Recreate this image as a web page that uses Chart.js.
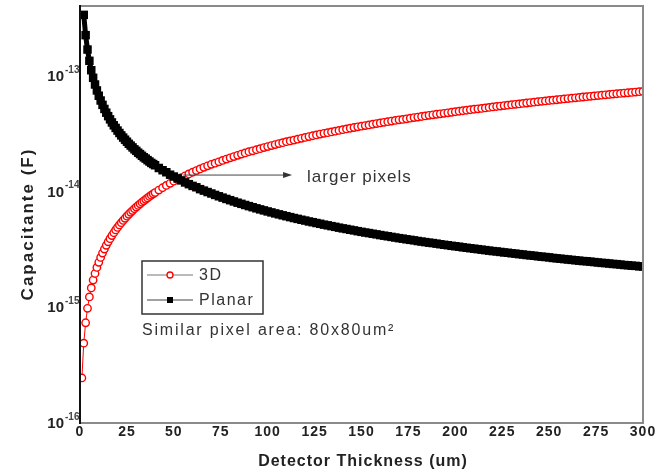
<!DOCTYPE html>
<html>
<head>
<meta charset="utf-8">
<script src="https://cdn.jsdelivr.net/npm/chart.js@4.4.1/dist/chart.umd.min.js"></script>
<style>
  html, body { margin: 0; padding: 0; background: #fff; }
  #chart { display: block; }
</style>
</head>
<body>
<canvas id="chart" width="657" height="473"></canvas>
<script>
// detector thickness (um)
const thickness = [
    1, 2, 3, 4, 5, 6, 7, 8, 9, 10,
    11, 12, 13, 14, 15, 16, 17, 18, 19, 20,
    21, 22, 23, 24, 25, 26, 27, 28, 29, 30,
    31, 32, 33, 34, 35, 36, 37, 38, 39, 40,
    42, 44, 46, 48, 50, 52, 54, 56, 58, 60,
    62, 64, 66, 68, 70, 72, 74, 76, 78, 80,
    82, 84, 86, 88, 90, 92, 94, 96, 98, 100,
    102, 104, 106, 108, 110, 112, 114, 116, 118, 120,
    122, 124, 126, 128, 130, 132, 134, 136, 138, 140,
    142, 144, 146, 148, 150, 152, 154, 156, 158, 160,
    162, 164, 166, 168, 170, 172, 174, 176, 178, 180,
    182, 184, 186, 188, 190, 192, 194, 196, 198, 200,
    202, 204, 206, 208, 210, 212, 214, 216, 218, 220,
    222, 224, 226, 228, 230, 232, 234, 236, 238, 240,
    242, 244, 246, 248, 250, 252, 254, 256, 258, 260,
    262, 264, 266, 268, 270, 272, 274, 276, 278, 280,
    282, 284, 286, 288, 290, 292, 294, 296, 298, 300
];

// capacitance, fF
const cap3D = [
    0.245, 0.49, 0.735, 0.98, 1.23, 1.47, 1.72, 1.96, 2.21, 2.45,
    2.70, 2.94, 3.19, 3.43, 3.68, 3.92, 4.17, 4.41, 4.66, 4.90,
    5.15, 5.39, 5.64, 5.88, 6.13, 6.37, 6.62, 6.86, 7.11, 7.35,
    7.60, 7.84, 8.09, 8.33, 8.58, 8.82, 9.07, 9.31, 9.56, 9.80,
    10.3, 10.8, 11.3, 11.8, 12.3, 12.7, 13.2, 13.7, 14.2, 14.7,
    15.2, 15.7, 16.2, 16.7, 17.2, 17.6, 18.1, 18.6, 19.1, 19.6,
    20.1, 20.6, 21.1, 21.6, 22.1, 22.5, 23.0, 23.5, 24.0, 24.5,
    25.0, 25.5, 26.0, 26.5, 27.0, 27.4, 27.9, 28.4, 28.9, 29.4,
    29.9, 30.4, 30.9, 31.4, 31.9, 32.3, 32.8, 33.3, 33.8, 34.3,
    34.8, 35.3, 35.8, 36.3, 36.8, 37.2, 37.7, 38.2, 38.7, 39.2,
    39.7, 40.2, 40.7, 41.2, 41.7, 42.1, 42.6, 43.1, 43.6, 44.1,
    44.6, 45.1, 45.6, 46.1, 46.6, 47.0, 47.5, 48.0, 48.5, 49.0,
    49.5, 50.0, 50.5, 51.0, 51.5, 51.9, 52.4, 52.9, 53.4, 53.9,
    54.4, 54.9, 55.4, 55.9, 56.4, 56.8, 57.3, 57.8, 58.3, 58.8,
    59.3, 59.8, 60.3, 60.8, 61.3, 61.7, 62.2, 62.7, 63.2, 63.7,
    64.2, 64.7, 65.2, 65.7, 66.2, 66.6, 67.1, 67.6, 68.1, 68.6,
    69.1, 69.6, 70.1, 70.6, 71.1, 71.5, 72.0, 72.5, 73.0, 73.5
];

const capPlanar = [
    null, 337, 225, 169, 135, 112, 96.3, 84.3, 74.9, 67.4,
    61.3, 56.2, 51.8, 48.1, 44.9, 42.1, 39.6, 37.4, 35.5, 33.7,
    32.1, 30.6, 29.3, 28.1, 27.0, 25.9, 25.0, 24.1, 23.2, 22.5,
    21.7, 21.1, 20.4, 19.8, 19.3, 18.7, 18.2, 17.7, 17.3, 16.9,
    16.0, 15.3, 14.7, 14.0, 13.5, 13.0, 12.5, 12.0, 11.6, 11.2,
    10.9, 10.5, 10.2, 9.91, 9.63, 9.36, 9.11, 8.87, 8.64, 8.43,
    8.22, 8.02, 7.84, 7.66, 7.49, 7.33, 7.17, 7.02, 6.88, 6.74,
    6.61, 6.48, 6.36, 6.24, 6.13, 6.02, 5.91, 5.81, 5.71, 5.62,
    5.52, 5.44, 5.35, 5.27, 5.18, 5.11, 5.03, 4.96, 4.88, 4.81,
    4.75, 4.68, 4.62, 4.55, 4.49, 4.43, 4.38, 4.32, 4.27, 4.21,
    4.16, 4.11, 4.06, 4.01, 3.96, 3.92, 3.87, 3.83, 3.79, 3.74,
    3.70, 3.66, 3.62, 3.59, 3.55, 3.51, 3.47, 3.44, 3.40, 3.37,
    3.34, 3.30, 3.27, 3.24, 3.21, 3.18, 3.15, 3.12, 3.09, 3.06,
    3.04, 3.01, 2.98, 2.96, 2.93, 2.91, 2.88, 2.86, 2.83, 2.81,
    2.79, 2.76, 2.74, 2.72, 2.70, 2.67, 2.65, 2.63, 2.61, 2.59,
    2.57, 2.55, 2.53, 2.51, 2.50, 2.48, 2.46, 2.44, 2.42, 2.41,
    2.39, 2.37, 2.36, 2.34, 2.32, 2.31, 2.29, 2.28, 2.26, 2.25
];

const yTickValues = [1e-16, 1e-15, 1e-14, 1e-13];
const yTickExponents = ["-16", "-15", "-14", "-13"];

const fF = 1e-15;
const toPoints = arr => thickness.map((t, i) => ({ x: t, y: arr[i] == null ? null : arr[i] * fF }));

const FONT = "Arial, 'Liberation Sans', sans-serif";

const decorPlugin = {
    id: "decor",
    beforeDraw(chart) {
        chart.ctx.letterSpacing = "1px"; // x tick labels look spaced out
    },
    afterDraw(chart) {
        const ctx = chart.ctx;
        const a = chart.chartArea;
        const xs = chart.scales.x, ys = chart.scales.y;
        ctx.save();

        // frame
        ctx.lineWidth = 2;
        ctx.strokeStyle = "#8a8a8a";
        ctx.beginPath();
        ctx.moveTo(a.left, a.top);
        ctx.lineTo(a.right, a.top);
        ctx.lineTo(a.right, a.bottom);
        ctx.lineTo(a.left, a.bottom);
        ctx.stroke();
        ctx.strokeStyle = "#111";
        ctx.beginPath();
        ctx.moveTo(a.left, a.top - 1);
        ctx.lineTo(a.left, a.bottom + 1);
        ctx.stroke();

        // y tick labels 10^n
        ctx.letterSpacing = "0px";
        yTickValues.forEach((v, i) => {
            const y = ys.getPixelForValue(v);
            ctx.fillStyle = "#222";
            ctx.font = "bold 15px " + FONT;
            ctx.textAlign = "right";
            ctx.textBaseline = "middle";
            ctx.fillText("10", 64, y + 1);
            ctx.font = "bold 10px " + FONT;
            ctx.textAlign = "left";
            ctx.fillStyle = "#444";
            ctx.fillText(yTickExponents[i], 65, y - 6);
        });

        // axis titles
        ctx.fillStyle = "#222";
        ctx.textAlign = "center";
        ctx.textBaseline = "middle";
        ctx.letterSpacing = "1px";
        ctx.font = "bold 16px " + FONT;
        ctx.fillText("Detector Thickness (um)", 363, 462);
        ctx.save();
        ctx.letterSpacing = "2px";
        ctx.font = "bold 17px " + FONT;
        ctx.translate(28, 224);
        ctx.rotate(-Math.PI / 2);
        ctx.fillText("Capacitante (F)", 0, 0);
        ctx.restore();

        // annotation arrow
        const ay = ys.getPixelForValue(13.9 * fF);
        const ax0 = xs.getPixelForValue(55), ax1 = xs.getPixelForValue(113);
        ctx.strokeStyle = "#444";
        ctx.lineWidth = 1;
        ctx.beginPath();
        ctx.moveTo(ax0, ay);
        ctx.lineTo(ax1 - 6, ay);
        ctx.stroke();
        ctx.fillStyle = "#333";
        ctx.beginPath();
        ctx.moveTo(ax1, ay);
        ctx.lineTo(ax1 - 9, ay - 3);
        ctx.lineTo(ax1 - 9, ay + 3);
        ctx.closePath();
        ctx.fill();
        ctx.letterSpacing = "1px";
        ctx.font = "17px " + FONT;
        ctx.textAlign = "left";
        ctx.fillStyle = "#333";
        ctx.fillText("larger pixels", xs.getPixelForValue(121), ay + 2);

        // legend box
        ctx.strokeStyle = "#333";
        ctx.lineWidth = 1.5;
        ctx.strokeRect(142, 261, 121, 53);
        ctx.lineWidth = 1.2;
        ctx.strokeStyle = "#777";
        ctx.beginPath();
        ctx.moveTo(147, 275); ctx.lineTo(193, 275);
        ctx.stroke();
        ctx.fillStyle = "#fff";
        ctx.strokeStyle = "#ff0000";
        ctx.lineWidth = 1.3;
        ctx.beginPath();
        ctx.arc(170, 275, 3, 0, Math.PI * 2);
        ctx.fill();
        ctx.stroke();
        ctx.strokeStyle = "#444";
        ctx.lineWidth = 1.2;
        ctx.beginPath();
        ctx.moveTo(147, 300); ctx.lineTo(193, 300);
        ctx.stroke();
        ctx.fillStyle = "#000";
        ctx.fillRect(167, 297, 6, 6);

        ctx.fillStyle = "#333";
        ctx.font = "16px " + FONT;
        ctx.textAlign = "left";
        ctx.textBaseline = "middle";
        ctx.letterSpacing = "1.5px";
        ctx.fillText("3D", 199, 276);
        ctx.fillText("Planar", 199, 301);
        ctx.letterSpacing = "1.8px";
        ctx.fillText("Similar pixel area: 80x80um\u00B2", 142, 331);

        ctx.restore();
        ctx.letterSpacing = "0px";
    }
};

new Chart(document.getElementById("chart").getContext("2d"), {
    type: "line",
    data: {
        datasets: [
            {
                label: "3D",
                data: toPoints(cap3D),
                order: 2,
                borderColor: "#ff0000",
                borderWidth: 1,
                pointStyle: "circle",
                pointRadius: 3.7,
                pointBorderWidth: 1.4,
                pointBorderColor: "#ff0000",
                pointBackgroundColor: "#ffffff",
                tension: 0
            },
            {
                label: "Planar",
                data: toPoints(capPlanar),
                order: 1,
                borderColor: "#000000",
                borderWidth: 5,
                pointStyle: "rect",
                pointRadius: 6,
                pointBorderWidth: 0,
                pointBackgroundColor: "#000000",
                tension: 0
            }
        ]
    },
    options: {
        responsive: false,
        animation: false,
        devicePixelRatio: 1,
        layout: { padding: { left: 0, top: 6, right: 14, bottom: 0 } },
        scales: {
            x: {
                type: "linear",
                min: 0,
                max: 300,
                grid: { display: false, drawTicks: false },
                border: { display: false },
                ticks: {
                    stepSize: 25,
                    padding: 1,
                    maxRotation: 0,
                    autoSkip: false,
                    color: "#222",
                    font: { family: FONT, size: 14, weight: "bold" }
                },
                afterFit(scale) { scale.height = 50; }
            },
            y: {
                type: "logarithmic",
                min: 1e-16,
                max: 4.02e-13,
                grid: { display: false, drawTicks: false },
                border: { display: false },
                ticks: { display: false },
                afterBuildTicks(scale) { scale.ticks = yTickValues.map(v => ({ value: v })); },
                afterFit(scale) { scale.width = 80; }
            }
        },
        plugins: {
            legend: { display: false },
            tooltip: { enabled: false }
        }
    },
    plugins: [decorPlugin]
});
</script>
</body>
</html>
